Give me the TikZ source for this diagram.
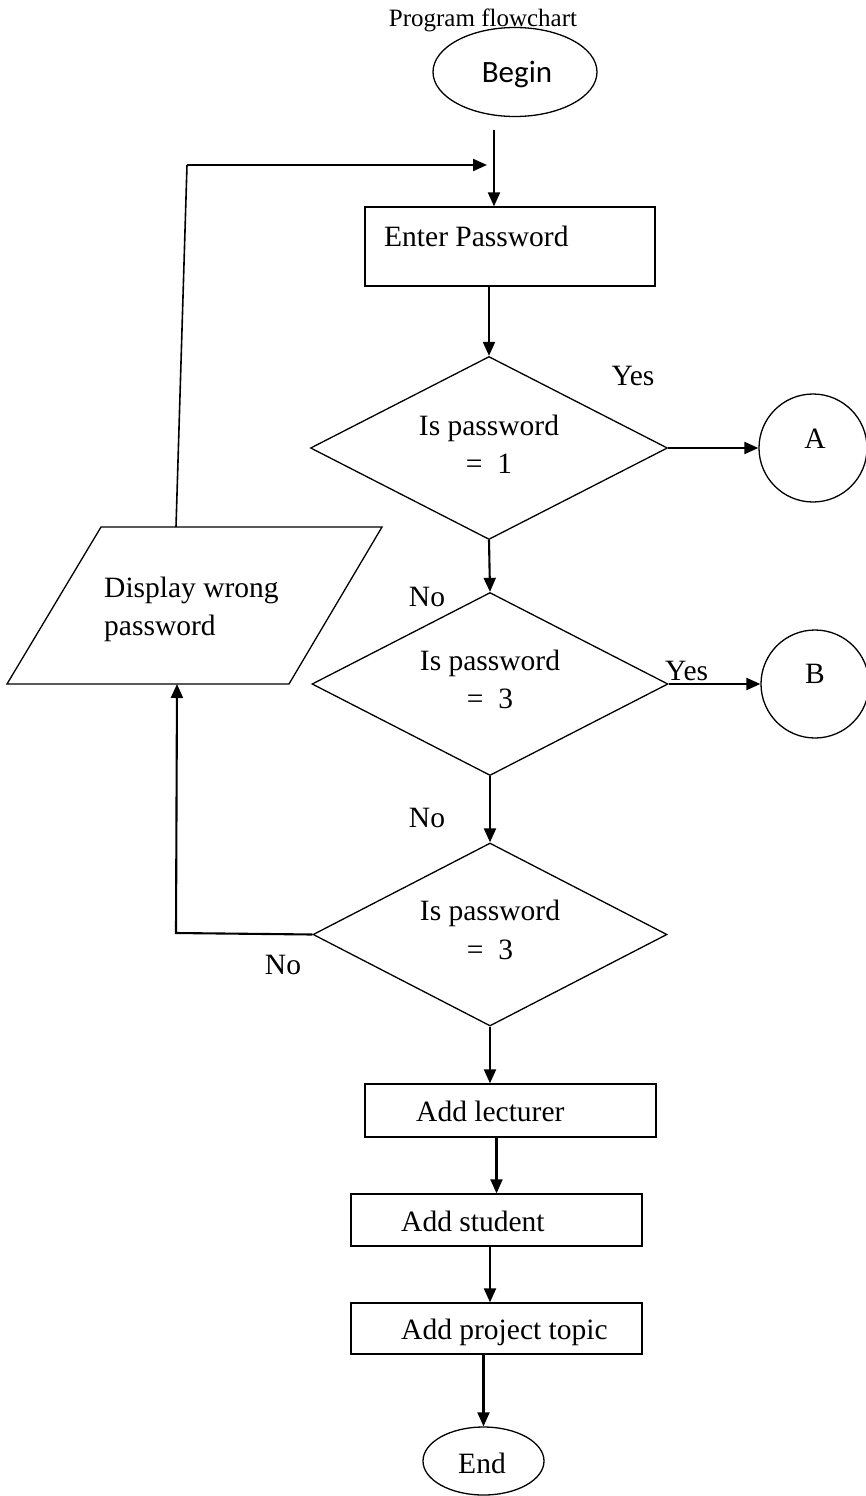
\documentclass[tikz,border=0pt]{standalone}
\usepackage{fontspec}
\setmainfont{Liberation Serif}
\newfontfamily\calibri{Carlito}
\usetikzlibrary{shapes.geometric,arrows.meta}

\begin{document}
\begin{tikzpicture}[x=1pt,y=-1pt,
  shape line/.style={draw=black,line width=1.3pt,inner sep=0pt},
  procbox/.style={shape line,rectangle},
  decision/.style={shape line,diamond,minimum width=356pt,minimum height=183pt},
  terminal/.style={shape line,ellipse},
  connector/.style={shape line,circle,minimum size=108pt},
  arr/.style={line width=2.1pt,-{Triangle[length=14pt,width=12pt]}},
  flow/.style={line width=1.6pt},
  txt/.style={inner sep=0pt,font=\fontsize{29.5}{34}\selectfont},
]
\useasboundingbox (0,0) rectangle (865,1496);

% title and start
\node[inner sep=0pt,font=\fontsize{25}{30}\selectfont,anchor=base] (title) at (483,27) {Program flowchart};
\node[terminal,minimum width=164pt,minimum height=89pt] (begin) at (515,72) {};
\node[inner sep=0pt,anchor=base,font=\calibri\fontsize{31}{36}\selectfont] (begintxt) at (517,82) {Begin};

% password entry
\node[procbox,minimum width=290pt,minimum height=79pt] (enter) at (510,246.5) {};
\node[txt,anchor=base west] (entertxt) at (384,246) {Enter Password};

% first decision
\node[decision,minimum width=357pt] (d1) at (489,448) {};
\node[txt,anchor=base] (d1a) at (489,435) {Is password};
\node[txt,anchor=base] (d1b) at (489,473) {=~~1};
\node[txt,anchor=base] (yes1) at (633,385) {Yes};
\node[connector] (A) at (813,448) {};
\node[txt,anchor=base] (Atxt) at (815,448) {A};

% second decision
\node[decision] (d2) at (490,684) {};
\node[txt,anchor=base] (d2a) at (490,670) {Is password};
\node[txt,anchor=base] (d2b) at (490,708) {=~~3};
\node[txt,anchor=base] (no1) at (427,606) {No};
\node[txt,anchor=base west] (yes2) at (665,680) {Yes};
\node[connector] (B) at (815,684) {};
\node[txt,anchor=base] (Btxt) at (815,683) {B};

% third decision
\node[decision,minimum width=354pt] (d3) at (490,934.5) {};
\node[txt,anchor=base] (d3a) at (490,920) {Is password};
\node[txt,anchor=base] (d3b) at (490,959) {=~~3};
\node[txt,anchor=base] (no2) at (427,827) {No};
\node[txt,anchor=base] (no3) at (283,974) {No};

% wrong password output
\coordinate (dwtl) at (101,527);
\coordinate (dwtr) at (382,527);
\coordinate (dwbr) at (289,684);
\coordinate (dwbl) at (7,684);
\draw[line width=1.3pt] (dwtl) -- (dwtr) -- (dwbr) -- (dwbl) -- cycle;
\node[txt,anchor=base west] (dw1) at (104,597) {Display wrong};
\node[txt,anchor=base west] (dw2) at (104,635) {password};
\coordinate (dwtop) at (176,527);
\coordinate (dwbot) at (177,684);

% remaining steps
\node[procbox,minimum width=291pt,minimum height=53pt] (lect) at (510.5,1110.5) {};
\node[txt,anchor=base west] (lecttxt) at (416,1121) {Add lecturer};
\node[procbox,minimum width=291pt,minimum height=52pt] (stud) at (496.5,1220) {};
\node[txt,anchor=base west] (studtxt) at (401,1231) {Add student};
\node[procbox,minimum width=291pt,minimum height=51pt] (proj) at (496.5,1328.5) {};
\node[txt,anchor=base west] (projtxt) at (401,1339) {Add project topic};
\node[terminal,minimum width=121pt,minimum height=68pt] (end) at (483.5,1461) {};
\node[txt,anchor=base] (endtxt) at (482,1473) {End};

% connectors
\coordinate (entry) at (494,130);
\draw[arr] (entry) -- (entry |- enter.north);
\draw[arr] (enter.south -| d1.north) -- (d1.north);
\draw[arr] (d1.east) -- (A.west);
\draw[arr] (d1.south) -- (d2.north);
\draw[arr] (d2.east) -- (B.west);
\draw[arr] (d2.south) -- (d3.north);
\coordinate (loopturn) at (176,933);
\draw[arr] (d3.west) -- (loopturn) -- (dwbot);
\coordinate (loopcorner) at (187,165);
\coordinate (loopend) at (487,165);
\draw[flow] (dwtop) -- (loopcorner);
\draw[arr] (loopcorner) -- (loopend);
\draw[arr] (d3.south) -- (lect.north -| d3.south);
\draw[arr] (stud.north |- lect.south) -- (stud.north);
\draw[arr] (d3.south |- stud.south) -- (d3.south |- proj.north);
\draw[arr] (end.north |- proj.south) -- (end.north);
\end{tikzpicture}
\end{document}
